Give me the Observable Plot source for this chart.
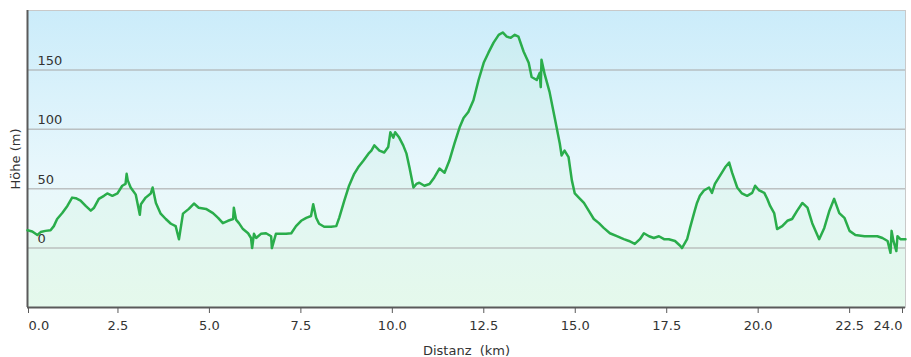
<!DOCTYPE html>
<html>
<head>
<meta charset="utf-8">
<script src="https://cdn.jsdelivr.net/npm/d3@7"></script>
<script src="https://cdn.jsdelivr.net/npm/@observablehq/plot@0.6"></script>
<style>
  html, body { margin: 0; padding: 0; background: #fff; }
  svg text { white-space: pre; }
</style>
</head>
<body>
<div id="chart"></div>
<script>
// Distance along the route (km)
const distanceKm = [
  0.00, 0.13, 0.27, 0.36, 0.49, 0.63, 0.72, 0.81, 0.95, 1.09,
  1.22, 1.32, 1.45, 1.59, 1.73, 1.82, 1.95, 2.09, 2.18, 2.32,
  2.46, 2.59, 2.68, 2.71, 2.74, 2.82, 2.96, 3.07, 3.10, 3.23,
  3.37, 3.42, 3.51, 3.64, 3.78, 3.92, 4.05, 4.14, 4.25, 4.41,
  4.55, 4.68, 4.88, 5.07, 5.21, 5.34, 5.48, 5.62, 5.64, 5.70,
  5.78, 5.89, 6.03, 6.11, 6.14, 6.19, 6.25, 6.38, 6.52, 6.66,
  6.68, 6.79, 6.93, 7.07, 7.21, 7.34, 7.48, 7.62, 7.75, 7.81,
  7.89, 7.97, 8.11, 8.30, 8.44, 8.52, 8.66, 8.79, 8.93, 9.04,
  9.18, 9.32, 9.40, 9.48, 9.62, 9.75, 9.86, 9.92, 10.00, 10.05,
  10.16, 10.27, 10.36, 10.44, 10.55, 10.63, 10.71, 10.85, 10.99, 11.12,
  11.26, 11.40, 11.53, 11.67, 11.81, 11.92, 12.05, 12.19, 12.33, 12.47,
  12.60, 12.74, 12.88, 12.99, 13.10, 13.21, 13.32, 13.42, 13.56, 13.70,
  13.78, 13.92, 14.00, 14.03, 14.05, 14.14, 14.27, 14.41, 14.55, 14.60,
  14.68, 14.79, 14.88, 14.96, 15.07, 15.21, 15.34, 15.48, 15.62, 15.75,
  15.92, 16.11, 16.30, 16.44, 16.60, 16.74, 16.85, 16.99, 17.12, 17.26,
  17.40, 17.53, 17.70, 17.84, 17.89, 18.03, 18.11, 18.22, 18.30, 18.38,
  18.49, 18.63, 18.71, 18.79, 18.93, 19.07, 19.18, 19.26, 19.40, 19.53,
  19.67, 19.81, 19.89, 20.00, 20.14, 20.22, 20.30, 20.41, 20.49, 20.63,
  20.77, 20.90, 21.04, 21.18, 21.32, 21.45, 21.64, 21.78, 21.92, 22.05,
  22.19, 22.33, 22.47, 22.63, 22.88, 23.10, 23.23, 23.37, 23.51, 23.59,
  23.62, 23.67, 23.75, 23.78, 23.86, 24.00
];
// Elevation (m)
const elevationM = [
  15, 14, 11, 13.5, 14.5, 15, 18.5, 24.5, 29.5, 35.5,
  42.5, 42, 40, 35.5, 31.5, 34, 41.5, 44, 46, 44,
  46, 52.5, 54, 62.5, 57, 51, 45, 28, 37, 42.5,
  46, 51, 38, 29, 24.5, 20.5, 18.5, 7.5, 29, 33,
  37.5, 34, 33, 29.5, 25.5, 21, 23, 24.5, 34, 24,
  21, 16, 12.5, 8.5, 0, 12, 8.5, 12, 12.5, 10,
  0, 12, 12, 12, 12.5, 18.5, 23, 25.5, 27, 37,
  25.5, 20.5, 18, 18, 18.5, 25.5, 40, 52.5, 62.5, 68,
  73.5, 79.5, 82, 86.5, 82, 80.5, 85, 97.5, 93, 97.5,
  93, 86.5, 79.5, 68, 51, 54, 55, 52.5, 54, 59.5,
  67, 63.5, 73.5, 88, 101.5, 109.5, 114.5, 124.5, 141.5, 156,
  164.5, 173, 179.5, 181.5, 178, 177, 179.5, 178, 165.5, 156,
  144, 141.5, 147.5, 135.5, 158.5, 146, 131.5, 110, 88, 78,
  82, 76.5, 57, 46, 42.5, 38, 31.5, 24.5, 21, 17,
  12.5, 10, 7.5, 6, 3.5, 7.5, 12.5, 10, 8.5, 10,
  7.5, 7.5, 6, 2, 0, 7.5, 17, 29.5, 38, 44,
  48.5, 51, 46.5, 54, 61, 68, 72, 63.5, 51, 46,
  44, 46.5, 52.5, 48.5, 46.5, 41.5, 35.5, 29.5, 16, 18.5,
  23, 24.5, 31.5, 38, 34, 21, 7.5, 17, 31.5, 41.5,
  29.5, 25.5, 14.5, 11, 10, 10, 10, 8.5, 6, -4,
  14.5, 6, -2.5, 10, 7.5, 7.5
];
const xTickValues = [0, 2.5, 5, 7.5, 10, 12.5, 15, 17.5, 20, 22.5, 24];
const yTickValues = [0, 50, 100, 150];
const xLabel = "Distanz  (km)";
const yLabel = "Höhe (m)";

const profile = distanceKm.map((d, i) => ({km: d, m: elevationM[i]}));
const fmt = d3.format(".1f");
const axisColor = "#5a5a5a";
const textColor = "#333";

const chart = Plot.plot({
  width: 911,
  height: 357,
  marginLeft: 27,
  marginRight: 6,
  marginTop: 10,
  marginBottom: 50,
  x: {domain: [0, 24], label: null},
  y: {domain: [-50, 200], label: null},
  style: {fontFamily: "DejaVu Sans, Verdana, sans-serif", fontSize: "13px", color: textColor, background: "white", overflow: "visible"},
  marks: [
    Plot.frame({fill: "url(#bgGrad)", stroke: "#c9c9c9", strokeWidth: 1}),
    Plot.areaY(profile, {x: "km", y1: -50, y2: "m", fill: "#b8eec9", fillOpacity: 0.15}),
    Plot.gridY(yTickValues, {stroke: "#a9a9a9", strokeOpacity: 0.7, strokeWidth: 1.5}),
    Plot.axisY(yTickValues, {anchor: "left", tickSize: 0, tickPadding: 0, textAnchor: "start", dx: 10, dy: -9, fill: textColor, label: null}),
    Plot.axisY([], {anchor: "left", tickSize: 0, label: yLabel, labelAnchor: "center", labelOffset: 17, labelArrow: false, fill: textColor}),
    Plot.ruleX([0], {stroke: axisColor, strokeWidth: 2}),
    Plot.ruleY([-50], {stroke: axisColor, strokeWidth: 2}),
    Plot.line(profile, {x: "km", y: "m", stroke: "#2aad4b", strokeWidth: 2.5, strokeLinejoin: "round"}),
    Plot.axisX([xTickValues[0]], {anchor: "bottom", tickFormat: fmt, tickSize: 6, tickPadding: 7, textAnchor: "start", dx: 1, stroke: axisColor, fill: textColor, label: null}),
    Plot.axisX(xTickValues.slice(1, -1), {anchor: "bottom", tickFormat: fmt, tickSize: 6, tickPadding: 7, dx: -1, stroke: axisColor, fill: textColor, label: xLabel, labelAnchor: "center", labelArrow: false}),
    Plot.axisX([xTickValues[xTickValues.length - 1]], {anchor: "bottom", tickFormat: fmt, tickSize: 6, tickPadding: 7, textAnchor: "end", dx: -3, stroke: axisColor, fill: textColor, label: null})
  ]
});

const svg = d3.select(chart);
const defs = svg.insert("defs", ":first-child");
const grad = defs.append("linearGradient").attr("id", "bgGrad").attr("x1", 0).attr("y1", 0).attr("x2", 0).attr("y2", 1);
grad.append("stop").attr("offset", "0%").attr("stop-color", "#cbecfa");
grad.append("stop").attr("offset", "55%").attr("stop-color", "#e8f7fc");
grad.append("stop").attr("offset", "100%").attr("stop-color", "#eefcf2");

document.getElementById("chart").appendChild(chart);
</script>
</body>
</html>
